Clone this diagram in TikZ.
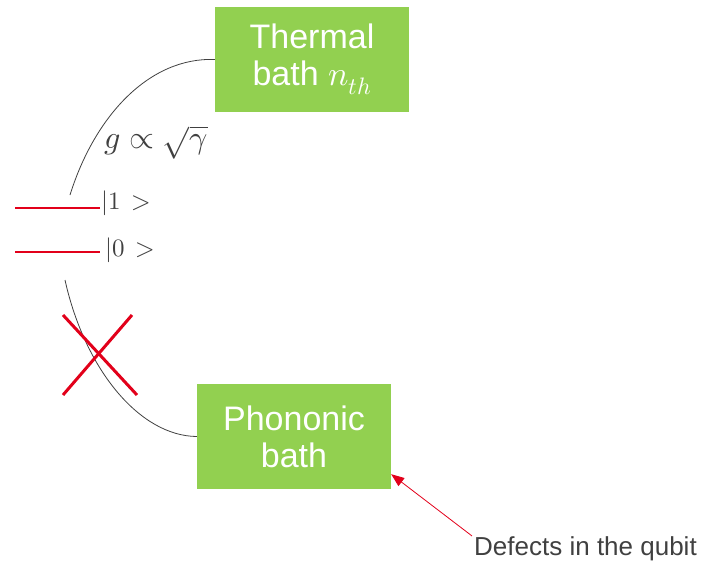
\documentclass[tikz,border=0pt]{standalone}
\usepackage{amsmath}
\usepackage{fontspec}
\usepackage{unicode-math}
\setmainfont{Liberation Sans}
\setmathfont{Latin Modern Math}
\usetikzlibrary{arrows.meta, positioning, calc}
\definecolor{bathgreen}{HTML}{92D050}
\definecolor{levelred}{HTML}{E2001A}
\definecolor{linegray}{HTML}{404040}

\begin{document}
\begin{tikzpicture}[x=1pt, y=-1pt, >=Stealth,
  bath/.style={fill=bathgreen, text=white, align=center, minimum width=194pt, minimum height=105pt, inner sep=0pt, font=\fontsize{34}{37}\selectfont},
  coupling/.style={linegray, line width=0.8pt},
  level/.style={levelred, line width=1.6pt}]
  \useasboundingbox (0,0) rectangle (702,560);

  % Baths
  \node[bath] (thermal) at (312,59.5) {Thermal\\bath $n_{th}$};
  \node[bath] (phononic) at (294,436.5) {Phononic\\bath};

  % Qubit levels
  \draw[level] (15,208) -- (100,208);
  \draw[level] (15,252) -- (100,252);
  \node[anchor=base west, inner sep=0pt, text=linegray, font=\fontsize{25}{27}\selectfont] (ket1) at (101,209) {$|1\,>$};
  \node[anchor=base west, inner sep=0pt, text=linegray, font=\fontsize{25}{27}\selectfont] (ket0) at (105,256) {$|0\,>$};

  % Coupling to the thermal bath
  \coordinate (qtop) at (70,195);
  \draw[coupling] (qtop) .. controls (95,115) and (150,57) .. (thermal.west);
  \node[anchor=base west, inner sep=0pt, text=linegray, font=\fontsize{32}{34}\selectfont] (rate) at (104,148) {$g \propto \sqrt{\gamma}$};

  % Coupling to the phononic bath (blocked)
  \coordinate (qbot) at (65,280);
  \draw[coupling] (qbot) .. controls (85,370) and (140,436) .. (phononic.west);
  \draw[levelred, line width=3pt] (63,315) -- (137,395);
  \draw[levelred, line width=3pt] (132,315) -- (63,395);

  % Defects
  \node[anchor=base west, inner sep=0pt, text=linegray, font=\fontsize{26}{28}\selectfont] (defects) at (474,555) {Defects in the qubit};
  \draw[->, levelred, line width=0.8pt, >={Triangle[length=13pt, width=10pt]}] ([xshift=-2pt]defects.north west) -- ([yshift=15pt]phononic.south east);
\end{tikzpicture}
\end{document}
